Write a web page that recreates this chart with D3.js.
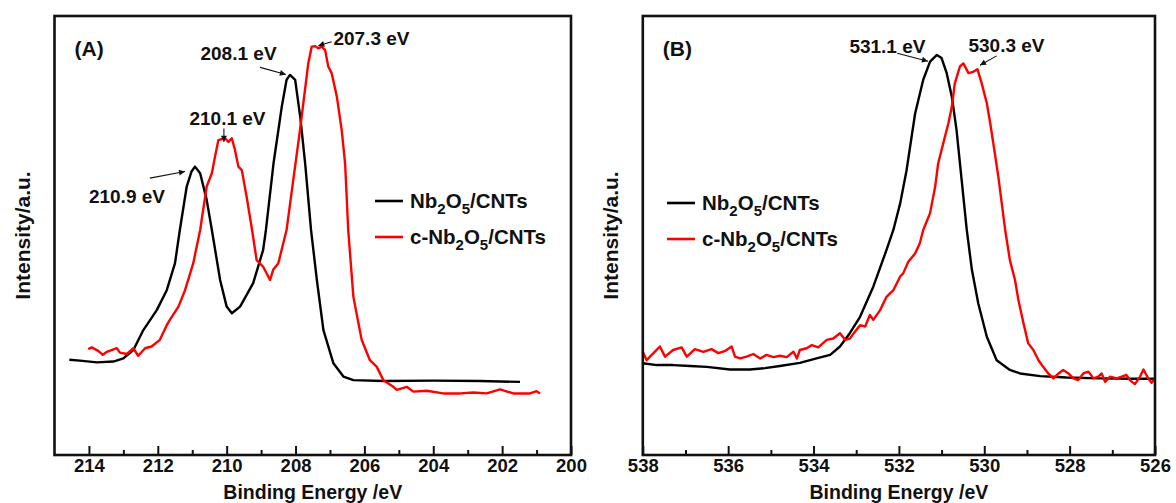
<!DOCTYPE html>
<html>
<head>
<meta charset="utf-8">
<script src="https://cdn.jsdelivr.net/npm/d3@7"></script>
<style>
  body { margin: 0; background: #fff; }
  text { font-family: "Liberation Sans", Arial, sans-serif; font-weight: bold; fill: #111; }
</style>
</head>
<body>
<script>
// ---- data: binding energy (eV), intensity (a.u.) ----
// (A) Nb 3d region
const nb3dBare = [
  [214.57,22.4],[214.26,22.2],[213.77,21.8],[213.29,22.0],[213.00,22.7],[212.71,24.6],[212.42,29.1],
  [212.03,33.6],[211.74,38.1],[211.50,44.2],[211.36,51.7],[211.16,61.5],[211.02,64.9],[210.92,66.0],
  [210.77,64.5],[210.58,58.5],[210.43,51.7],[210.19,40.4],[210.00,34.4],[209.85,32.9],[209.61,34.4],
  [209.23,39.7],[208.94,47.2],[208.86,51.7],[208.64,66.7],[208.40,79.5],[208.26,85.6],[208.16,86.7],
  [208.01,85.6],[207.86,77.0],[207.72,66.7],[207.55,51.7],[207.38,40.4],[207.19,29.1],[206.90,21.6],
  [206.61,18.6],[206.32,17.8],[205.45,17.6],[204.00,17.7],[202.64,17.6],[201.48,17.4]
];
const nb3dCalc = [
  [214.02,24.8],[213.92,25.2],[213.73,24.4],[213.60,23.5],[213.48,24.2],[213.19,25.0],[213.10,24.0],
  [212.90,23.7],[212.71,25.0],[212.57,23.3],[212.37,25.0],[212.18,25.4],[211.94,26.9],[211.74,30.2],
  [211.65,31.4],[211.40,34.4],[211.21,38.1],[211.06,41.9],[210.97,44.2],[210.77,51.7],[210.58,61.5],
  [210.43,64.5],[210.34,68.2],[210.24,72.0],[210.05,72.4],[209.95,71.6],[209.85,72.4],[209.76,69.8],
  [209.66,66.0],[209.56,65.2],[209.42,59.2],[209.27,52.1],[209.13,44.9],[208.94,43.4],[208.74,40.4],
  [208.65,42.7],[208.50,44.2],[208.26,51.7],[207.87,74.3],[207.63,89.3],[207.53,93.1],[207.43,93.2],
  [207.34,92.7],[207.24,93.1],[207.14,92.3],[207.05,88.6],[206.95,87.1],[206.80,81.8],[206.66,74.3],
  [206.56,66.7],[206.47,51.7],[206.32,36.6],[206.08,26.9],[205.84,22.3],[205.64,20.8],[205.45,17.8],
  [205.16,16.3],[205.06,15.6],[204.77,16.3],[204.58,15.2],[204.19,15.4],[203.71,14.8],[203.22,14.8],
  [202.84,15.0],[202.45,14.8],[202.06,15.7],[201.67,14.8],[201.19,14.8],[201.00,15.3],[200.90,14.8]
];
// (B) O 1s region
const o1sBare = [
  [538.00,21.6],[537.67,21.2],[537.29,21.2],[536.89,21.0],[536.50,20.8],[535.96,20.2],[535.49,20.2],
  [535.14,20.5],[534.79,21.0],[534.32,21.7],[533.93,22.7],[533.61,23.5],[533.38,25.4],[533.15,28.4],
  [532.91,32.1],[532.60,38.9],[532.29,47.2],[532.13,51.7],[531.97,57.7],[531.82,65.2],[531.62,78.0],
  [531.43,85.6],[531.27,89.7],[531.11,91.2],[531.00,90.5],[530.88,87.1],[530.76,81.8],[530.65,74.3],
  [530.53,63.0],[530.41,51.7],[530.29,42.7],[530.14,35.1],[529.94,27.6],[529.71,22.3],[529.40,20.1],
  [529.16,19.3],[528.69,18.7],[528.07,18.4],[527.29,18.2],[526.51,18.1],[526.00,18.1]
];
const o1sCalc = [
  [538.00,24.2],[537.91,22.3],[537.75,23.9],[537.60,25.4],[537.48,23.1],[537.29,24.6],[537.09,25.2],
  [536.97,23.1],[536.78,24.8],[536.58,24.2],[536.39,24.8],[536.23,23.9],[536.07,24.4],[535.92,25.4],
  [535.84,23.1],[535.72,22.7],[535.57,23.1],[535.41,23.7],[535.25,22.7],[535.10,23.5],[534.94,23.0],
  [534.79,23.3],[534.63,23.0],[534.47,24.2],[534.39,22.7],[534.32,24.6],[534.16,25.0],[534.04,25.7],
  [533.89,25.2],[533.69,26.9],[533.54,27.2],[533.38,28.4],[533.26,26.9],[533.15,27.2],[533.03,28.7],
  [532.91,30.2],[532.79,29.9],[532.68,32.5],[532.60,31.4],[532.44,33.6],[532.29,36.6],[532.13,38.1],
  [531.97,41.2],[531.90,41.9],[531.78,44.5],[531.62,46.4],[531.51,48.7],[531.43,51.7],[531.27,55.5],
  [531.15,61.5],[531.08,66.7],[530.96,71.3],[530.84,75.8],[530.76,79.5],[530.69,84.8],[530.57,88.6],
  [530.49,89.3],[530.37,87.1],[530.26,87.4],[530.16,88.0],[530.06,84.8],[529.94,80.3],[529.86,75.8],
  [529.74,68.2],[529.67,63.7],[529.63,60.7],[529.51,51.7],[529.40,44.9],[529.28,40.4],[529.20,35.9],
  [529.08,30.6],[528.97,26.1],[528.85,24.6],[528.73,22.3],[528.62,20.8],[528.50,19.3],[528.38,18.2],
  [528.26,19.3],[528.15,20.1],[528.03,19.3],[527.91,18.2],[527.80,17.8],[527.68,19.3],[527.56,19.7],
  [527.44,18.2],[527.33,18.6],[527.25,19.3],[527.17,17.4],[527.05,18.6],[526.90,18.2],[526.78,18.6],
  [526.67,19.0],[526.59,17.8],[526.47,16.9],[526.35,18.6],[526.27,20.2],[526.16,18.2],[526.08,17.2],
  [526.00,18.2]
];

const seriesNames = ['Nb2O5/CNTs', 'c-Nb2O5/CNTs'];
const seriesColors = ['#000000', '#ff0000'];

const ticksA = [214, 212, 210, 208, 206, 204, 202, 200];
const ticksB = [538, 536, 534, 532, 530, 528, 526];

// peak callouts: label anchor (E, I) and arrow from/to (E, I)
const peaksA = [
  { label: '210.9 eV', at: [214.00, 57.7], from: [212.23, 63.4], to: [211.21, 64.9] },
  { label: '210.1 eV', at: [211.08, 75.4], from: [210.08, 74.6], to: [210.08, 71.6] },
  { label: '208.1 eV', at: [210.76, 90.1], from: [209.03, 88.4], to: [208.28, 86.8] },
  { label: '207.3 eV', at: [206.90, 93.5], from: [206.95, 94.2], to: [207.34, 93.3] }
];
const peaksB = [
  { label: '531.1 eV', at: [533.16, 91.6], from: [532.04, 91.6], to: [531.32, 89.8] },
  { label: '530.3 eV', at: [530.37, 91.9], from: [529.71, 91.0], to: [530.10, 88.9] }
];

class XpsPanel {

  constructor(_config, _data) {
    this.config = {
      parentElement: _config.parentElement,
      left: _config.left,
      right: _config.right,
      top: 16,
      bottom: 455,
      xDomain: _config.xDomain,
      yDomain: [0.9, 100],
      ticks: _config.ticks,
      tag: _config.tag,
      legend: _config.legend,
      peaks: _config.peaks
    }
    this.data = _data;
    this.initVis();
  }

  initVis() {
    let vis = this;
    let c = vis.config;

    vis.g = c.parentElement.append('g');

    vis.xScale = d3.scaleLinear().domain(c.xDomain).range([c.left, c.right]);
    vis.yScale = d3.scaleLinear().domain(c.yDomain).range([c.bottom, c.top]);

    // minor ticks (every 1 eV), inward, no labels
    let lo = d3.min(c.xDomain), hi = d3.max(c.xDomain);
    vis.minorAxis = d3.axisBottom(vis.xScale)
      .tickValues(d3.range(lo + 1, hi, 2))
      .tickSizeInner(-5).tickSizeOuter(0).tickFormat('');
    vis.majorAxis = d3.axisBottom(vis.xScale)
      .tickValues(c.ticks)
      .tickSizeInner(-9).tickSizeOuter(0).tickPadding(4)
      .tickFormat(d3.format('d'));

    vis.line = d3.line()
      .x(d => vis.xScale(d[0]))
      .y(d => vis.yScale(d[1]));

    vis.renderVis();
  }

  renderVis() {
    let vis = this;
    let c = vis.config;

    vis.g.selectAll('.series')
      .data(vis.data)
      .join('path')
        .attr('class', 'series')
        .attr('fill', 'none')
        .attr('stroke', (d, i) => seriesColors[i])
        .attr('stroke-width', 2.4)
        .attr('stroke-linejoin', 'round')
        .attr('d', d => vis.line(d));

    // frame
    vis.g.append('rect')
      .attr('x', c.left).attr('y', c.top)
      .attr('width', c.right - c.left).attr('height', c.bottom - c.top)
      .attr('fill', 'none').attr('stroke', '#111').attr('stroke-width', 2.6);

    let minorG = vis.g.append('g').attr('transform', `translate(0,${c.bottom})`).call(vis.minorAxis);
    let majorG = vis.g.append('g').attr('transform', `translate(0,${c.bottom})`).call(vis.majorAxis);
    [minorG, majorG].forEach(ax => {
      ax.select('.domain').remove();
      ax.selectAll('line').attr('stroke', '#111').attr('stroke-width', 2);
    });
    majorG.selectAll('text')
      .attr('font-size', 18.5).attr('fill', '#111')
      .style('font-family', '"Liberation Sans", Arial, sans-serif').style('font-weight', 'bold');

    // axis titles
    vis.g.append('text')
      .attr('x', (c.left + c.right) / 2).attr('y', 499)
      .attr('text-anchor', 'middle').attr('font-size', 19.5)
      .text('Binding Energy /eV');
    vis.g.append('text')
      .attr('transform', `translate(${c.left - 25},${(c.top + c.bottom) / 2}) rotate(-90)`)
      .attr('text-anchor', 'middle').attr('font-size', 21)
      .text('Intensity/a.u.');

    // panel tag
    vis.g.append('text')
      .attr('x', c.left + 20).attr('y', 56)
      .attr('font-size', 21)
      .text(c.tag);

    // legend
    seriesNames.forEach((name, i) => {
      let ly = c.legend.y + i * 36;
      vis.g.append('line')
        .attr('x1', c.legend.x).attr('x2', c.legend.x + 28)
        .attr('y1', ly).attr('y2', ly)
        .attr('stroke', seriesColors[i]).attr('stroke-width', 2.6);
      let t = vis.g.append('text')
        .attr('x', c.legend.x + 35).attr('y', ly + 7)
        .attr('font-size', 20.5);
      let prefix = name.startsWith('c-') ? 'c-' : '';
      t.append('tspan').text(prefix + 'Nb');
      t.append('tspan').attr('dy', 6).attr('font-size', 15).text('2');
      t.append('tspan').attr('dy', -6).text('O');
      t.append('tspan').attr('dy', 6).attr('font-size', 15).text('5');
      t.append('tspan').attr('dy', -6).text('/CNTs');
    });

    // peak callouts
    c.peaks.forEach(p => {
      vis.g.append('text')
        .attr('x', vis.xScale(p.at[0])).attr('y', vis.yScale(p.at[1]))
        .attr('font-size', 19)
        .text(p.label);
      vis.g.append('line')
        .attr('x1', vis.xScale(p.from[0])).attr('y1', vis.yScale(p.from[1]))
        .attr('x2', vis.xScale(p.to[0])).attr('y2', vis.yScale(p.to[1]))
        .attr('stroke', '#111').attr('stroke-width', 1.1)
        .attr('marker-end', 'url(#arrowhead)');
    });
  }
}

const svg = d3.select('body').append('svg')
  .attr('width', 1176).attr('height', 503);

svg.append('defs').append('marker')
  .attr('id', 'arrowhead')
  .attr('viewBox', '0 0 10 10')
  .attr('refX', 10).attr('refY', 5)
  .attr('markerWidth', 7).attr('markerHeight', 6)
  .attr('markerUnits', 'userSpaceOnUse')
  .attr('orient', 'auto')
  .append('path').attr('d', 'M0,0 L10,5 L0,10 z').attr('fill', '#111');

new XpsPanel({
  parentElement: svg, left: 54.5, right: 571, xDomain: [215, 200],
  ticks: ticksA, tag: '(A)', legend: { x: 375, y: 201 }, peaks: peaksA
}, [nb3dBare, nb3dCalc]);

new XpsPanel({
  parentElement: svg, left: 642.8, right: 1155, xDomain: [538, 526],
  ticks: ticksB, tag: '(B)', legend: { x: 667, y: 203 }, peaks: peaksB
}, [o1sBare, o1sCalc]);
</script>
</body>
</html>
